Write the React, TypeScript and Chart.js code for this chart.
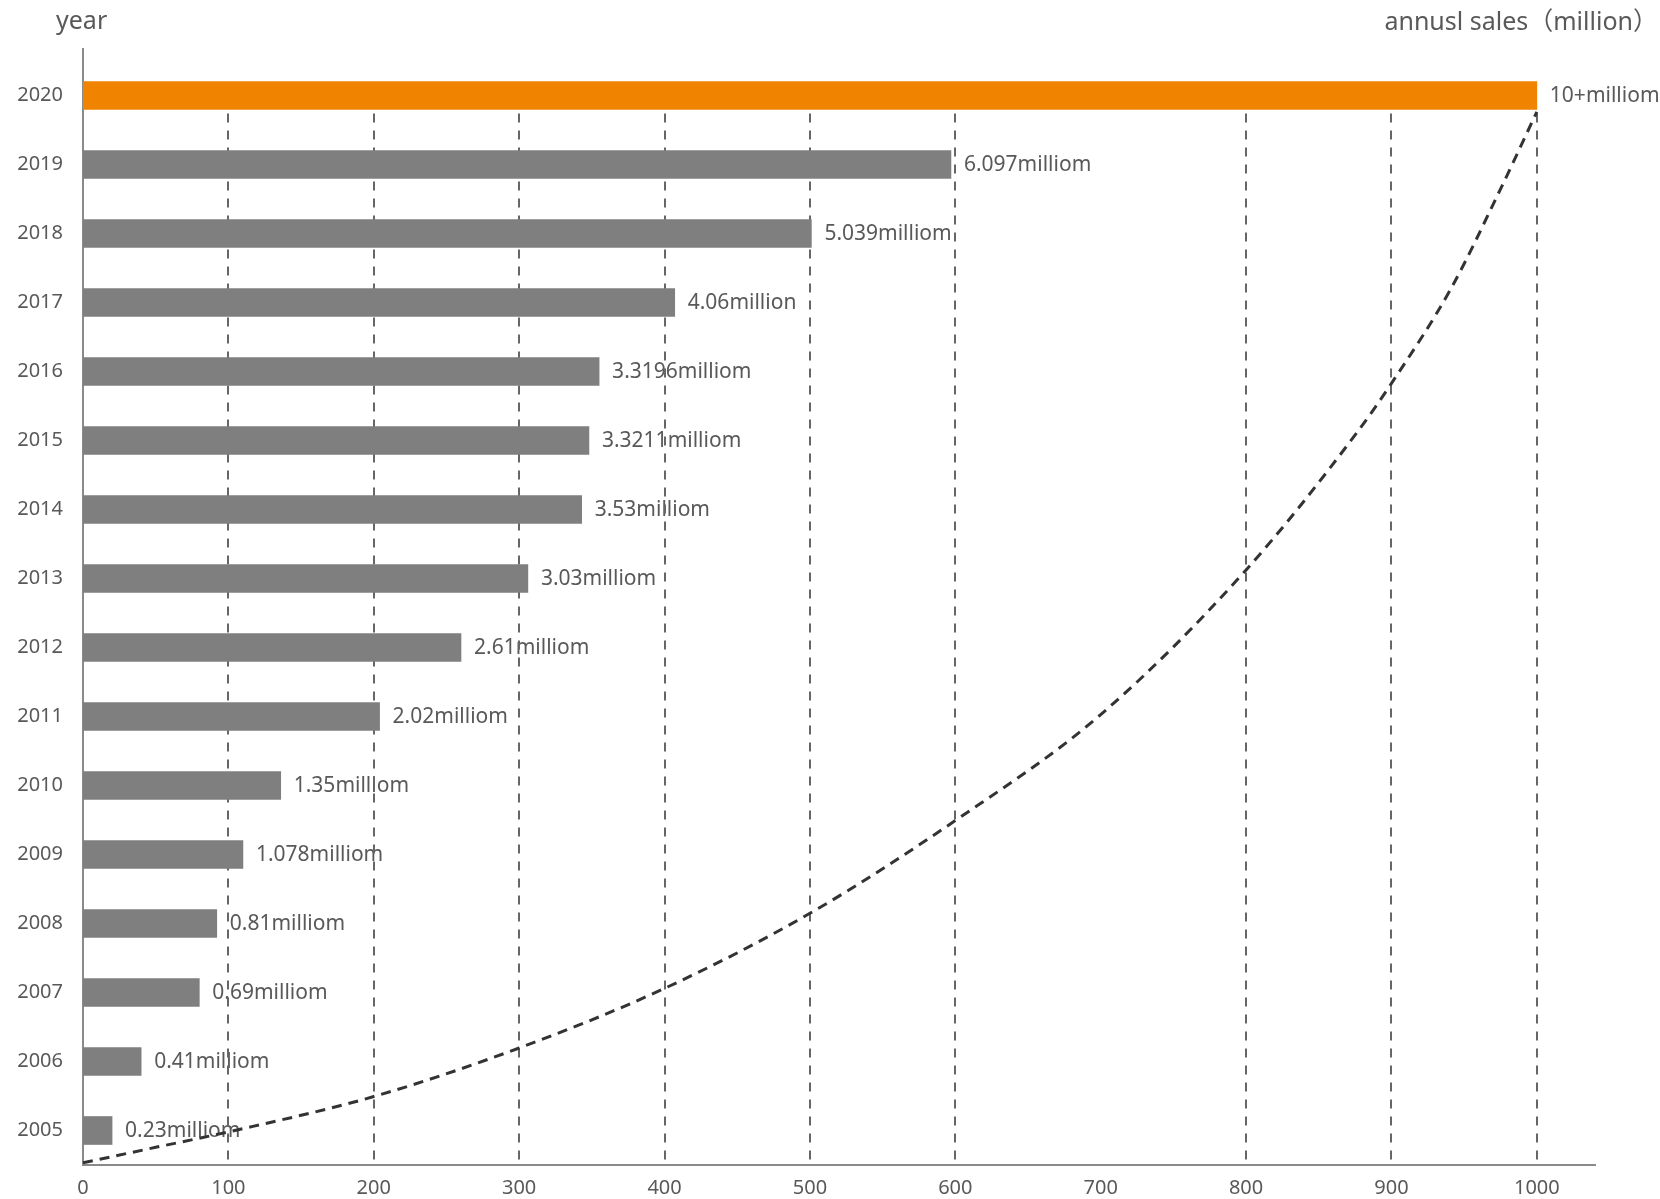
import React, { useEffect, useRef } from 'react';
import { Chart, registerables } from 'chart.js';

Chart.register(...registerables);

// ---- data ----
const years = ['2020', '2019', '2018', '2017', '2016', '2015', '2014', '2013', '2012', '2011', '2010', '2009', '2008', '2007', '2006', '2005'];
const sales = [1000, 597, 501, 407, 355, 348, 343, 306, 260, 204, 136, 110, 92, 80, 40, 20];
const valueLabels = [
  '10+milliom', '6.097milliom', '5.039milliom', '4.06million', '3.3196milliom', '3.3211milliom',
  '3.53milliom', '3.03milliom', '2.61milliom', '2.02milliom', '1.35milliom', '1.078milliom',
  '0.81milliom', '0.69milliom', '0.41milliom', '0.23milliom',
];
const xTicks = [0, 100, 200, 300, 400, 500, 600, 700, 800, 900, 1000];
const gridValues = [100, 200, 300, 400, 500, 600, 800, 900, 1000];
const trendX = [0, 50, 100, 200, 300, 400, 500, 600, 700, 800, 876, 900, 941, 975, 1000];
const trendY = [2, 16, 30, 62, 106, 160, 228, 312, 408, 539, 663, 708, 794, 884, 954];
const highlightYear = '2020';
const yearTitle = 'year';
const salesTitle = 'annusl sales（million）';

const FONT = '"Noto Sans", "Noto Sans CJK SC", sans-serif';
const TEXT = '#595959';
const AXIS = '#8a8a8a';

const overlayPlugin = {
  id: 'overlay',
  beforeDatasetsDraw(chart: any) {
    const { ctx, chartArea, scales } = chart;
    const xs = scales.x;
    const meta = chart.getDatasetMeta(1);
    ctx.save();
    // value labels
    ctx.font = `21px ${FONT}`;
    ctx.fillStyle = TEXT;
    ctx.textBaseline = 'middle';
    ctx.textAlign = 'left';
    meta.data.forEach((bar: any, i: number) => {
      ctx.fillText(valueLabels[i], bar.x + 13, bar.y + 1);
    });
    // dashed grid lines (start below the top bar)
    const first = meta.data[0];
    const top = first.y + first.height / 2 + 4;
    ctx.setLineDash([9, 8]);
    ctx.strokeStyle = '#666666';
    ctx.lineWidth = 2;
    gridValues.forEach((v) => {
      const px = Math.round(xs.getPixelForValue(v));
      ctx.beginPath();
      ctx.moveTo(px, top);
      ctx.lineTo(px, chartArea.bottom);
      ctx.stroke();
    });
    ctx.restore();
  },
  afterDraw(chart: any) {
    const { ctx, chartArea, width } = chart;
    ctx.save();
    // extend y axis line upward
    ctx.strokeStyle = AXIS;
    ctx.lineWidth = 2;
    ctx.beginPath();
    ctx.moveTo(chartArea.left, chartArea.top - 13);
    ctx.lineTo(chartArea.left, chartArea.top);
    ctx.stroke();
    // titles
    ctx.fillStyle = TEXT;
    ctx.textBaseline = 'middle';
    ctx.font = `25px ${FONT}`;
    ctx.textAlign = 'left';
    ctx.fillText(yearTitle, chartArea.left - 27, 22);
    ctx.textAlign = 'right';
    ctx.fillText(salesTitle, width - 2, 23);
    ctx.restore();
  },
};

export default function App() {
  const ref = useRef<HTMLCanvasElement>(null);
  useEffect(() => {
    document.body.style.margin = '0';
    const canvas = ref.current;
    if (!canvas) return;
    const chart = new Chart(canvas, {
      type: 'bar',
      data: {
        labels: years,
        datasets: [
          {
            type: 'line',
            indexAxis: 'x',
            data: trendX.map((x, i) => ({ x, y: trendY[i] })),
            xAxisID: 'x',
            yAxisID: 'y2',
            borderColor: '#333333',
            borderWidth: 3,
            borderDash: [10, 7],
            pointRadius: 0,
            fill: false,
            cubicInterpolationMode: 'monotone',
            clip: false,
          } as any,
          {
            type: 'bar',
            indexAxis: 'y',
            data: sales,
            xAxisID: 'x',
            yAxisID: 'y',
            barThickness: 28,
            grouped: false,
            borderWidth: 0,
            backgroundColor: years.map((y) => (y === highlightYear ? '#f08300' : '#7f7f7f')),
          } as any,
        ],
      },
      options: {
        indexAxis: 'y',
        animation: false,
        responsive: false,
        layout: { padding: { top: 61, right: 65, bottom: 0, left: 0 } },
        plugins: { legend: { display: false }, tooltip: { enabled: false }, title: { display: false } },
        scales: {
          x: {
            type: 'linear',
            axis: 'x',
            position: 'bottom',
            min: 0,
            max: 1040,
            offset: false,
            afterBuildTicks: (s: any) => {
              s.ticks = xTicks.map((v) => ({ value: v }));
            },
            afterFit: (s: any) => {
              s.height = 34;
            },
            ticks: {
              font: { size: 20, family: FONT },
              color: TEXT,
              padding: 11,
              autoSkip: false,
              maxRotation: 0,
              callback: (v: any) => String(v),
            },
            grid: { display: false, drawTicks: false },
            border: { color: AXIS, width: 2 },
          },
          y: {
            type: 'category',
            axis: 'y',
            position: 'left',
            offset: true,
            afterFit: (s: any) => {
              s.width = 83;
            },
            ticks: { font: { size: 20, family: FONT }, color: TEXT, padding: 20 },
            grid: { display: false, drawTicks: false, offset: true },
            border: { color: AXIS, width: 2 },
          },
          y2: {
            type: 'linear',
            axis: 'y',
            position: 'right',
            display: false,
            offset: false,
            grace: 0,
            min: 0,
            max: 1000,
          },
        },
      } as any,
      plugins: [overlayPlugin],
    });
    return () => chart.destroy();
  }, []);
  return (
    <div style={{ width: 1660, height: 1199, background: '#ffffff' }}>
      <canvas ref={ref} width={1660} height={1199} style={{ display: 'block', width: 1660, height: 1199 }} />
    </div>
  );
}
